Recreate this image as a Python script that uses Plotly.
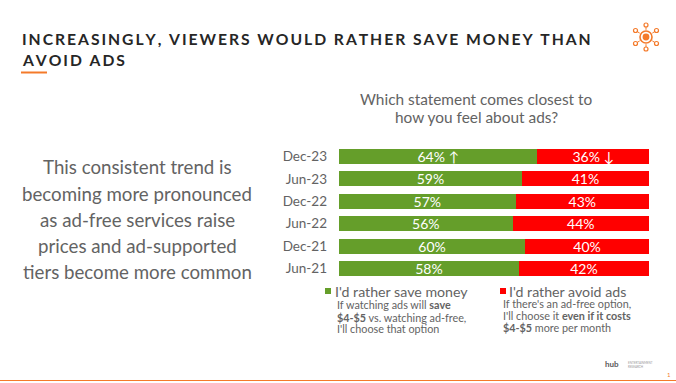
import plotly.graph_objects as go

periods = ["Dec-23", "Jun-23", "Dec-22", "Jun-22", "Dec-21", "Jun-21"]
save_money = [64, 59, 57, 56, 60, 58]
avoid_ads = [36, 41, 43, 44, 40, 42]
save_marks = [" ↑", "", "", "", "", ""]
avoid_marks = [" ↓", "", "", "", "", ""]
series_names = ["I'd rather save money", "I'd rather avoid ads"]
title_lines = ["INCREASINGLY, VIEWERS WOULD RATHER SAVE MONEY THAN", "AVOID ADS"]

W, H = 676, 383
FONT = "Lato"
GREY = "#636363"
ORANGE = "#F47A2A"
GREEN = "#659E2A"
RED = "#FF0000"


def px(x):
    return x / W


def py(y):
    return 1 - y / H


def spaced(s):
    return "<b>" + "\u2009".join(s).replace("\u2009 \u2009", "\u2009\u00a0\u2009") + "</b>"


fig = go.Figure()
fig.add_trace(go.Bar(
    y=periods, x=save_money, orientation="h", name=series_names[0],
    marker=dict(color=GREEN, line=dict(width=0)),
    text=[f"{v}%{m}" for v, m in zip(save_money, save_marks)],
    textposition="inside", insidetextanchor="middle", constraintext="none",
    textfont=dict(color="white", size=14, family=FONT),
))
fig.add_trace(go.Bar(
    y=periods, x=avoid_ads, orientation="h", name=series_names[1],
    marker=dict(color=RED, line=dict(width=0)),
    text=[f"{v}%{m}" for v, m in zip(avoid_ads, avoid_marks)],
    textposition="inside", insidetextanchor="middle", constraintext="none",
    textfont=dict(color="white", size=14, family=FONT),
))

shapes = [
    dict(type="rect", xref="paper", yref="paper", x0=px(21), x1=px(47), y0=py(73.5), y1=py(71.5),
         fillcolor=ORANGE, line_width=0),
    dict(type="line", xref="paper", yref="paper", x0=0, x1=1, y0=py(380.5), y1=py(380.5),
         line=dict(color=ORANGE, width=1)),
    dict(type="rect", xref="paper", yref="paper", x0=px(325), x1=px(331), y0=py(294), y1=py(288),
         fillcolor=GREEN, line_width=0),
    dict(type="rect", xref="paper", yref="paper", x0=px(500), x1=px(506), y0=py(294), y1=py(288),
         fillcolor=RED, line_width=0),
]


def circle(cx, cy, r, fill=None, width=1.2):
    return dict(type="circle", xref="paper", yref="paper",
                x0=px(cx - r), x1=px(cx + r), y0=py(cy + r), y1=py(cy - r),
                fillcolor=fill if fill else "rgba(0,0,0,0)",
                line=dict(color=ORANGE, width=width if not fill else 0))


ICON_X, ICON_Y = 646, 37
shapes += [circle(ICON_X, ICON_Y, 6, width=1.6), circle(ICON_X, ICON_Y, 3.4, fill=ORANGE)]
for dx, dy in [(0, -12), (0, 12), (-10.5, -6.5), (10.5, -6.5), (-10.5, 6.5), (10.5, 6.5)]:
    shapes.append(circle(ICON_X + dx, ICON_Y + dy, 2))
    shapes.append(dict(type="line", xref="paper", yref="paper",
                       x0=px(ICON_X + dx * 0.6), x1=px(ICON_X + dx * 0.85),
                       y0=py(ICON_Y + dy * 0.6), y1=py(ICON_Y + dy * 0.85),
                       line=dict(color=ORANGE, width=1)))


def note(x, y, text, size, color=GREY, anchor="left"):
    return dict(xref="paper", yref="paper", x=px(x), y=py(y), text=text, showarrow=False,
                xanchor=anchor, yanchor="top", align=anchor,
                font=dict(family=FONT, size=size, color=color), borderpad=0)


annotations = [
    note(21, 29, spaced(title_lines[0]), 15.7, "#262626"),
    note(21, 50, spaced(title_lines[1]), 15.7, "#262626"),
    note(476, 89, "Which statement comes closest to", 15.4, anchor="center"),
    note(476, 107, "how you feel about ads?", 15.4, anchor="center"),
    note(137, 155, "This consistent trend is", 18.7, anchor="center"),
    note(137, 181.5, "becoming more pronounced", 18.7, anchor="center"),
    note(137, 207.5, "as ad-free services raise", 18.7, anchor="center"),
    note(137, 233.5, "prices and ad-supported", 18.7, anchor="center"),
    note(137, 259.5, "tiers become more common", 18.7, anchor="center"),
    note(334, 282, series_names[0], 14.2),
    note(508, 282, series_names[1], 14.2),
    note(336, 297, "If watching ads will <b>save</b>", 10.8),
    note(336, 309.5, "<b>$4-$5</b> vs. watching ad-free,", 10.8),
    note(336, 320.5, "I'll choose that option", 10.8),
    note(502, 296, "If there's an ad-free option,", 10.8),
    note(502, 308, "I'll choose it <b>even if it costs</b>", 10.8),
    note(502, 320, "<b>$4-$5</b> more per month", 10.8),
    note(604, 358, "<b>hub</b>", 8, "#595959"),
    note(627, 360, "ENTERTAINMENT<br>RESEARCH", 3, "#999999"),
    note(666, 370, "1", 6, ORANGE),
]

fig.update_layout(
    width=W, height=H, autosize=False, margin=dict(l=0, r=0, t=0, b=0),
    paper_bgcolor="white", plot_bgcolor="white",
    barmode="stack", bargap=0.33, showlegend=False,
    font=dict(family=FONT, color=GREY),
    shapes=shapes, annotations=annotations,
    xaxis=dict(domain=[px(339), px(649)], range=[0, 100], visible=False, fixedrange=True),
    yaxis=dict(domain=[py(279.7), py(145.3)], autorange="reversed", showline=False, showgrid=False,
               ticks="", ticklabelstandoff=11,
               tickfont=dict(family=FONT, size=13.5, color=GREY), fixedrange=True),
)

fig.write_html("out.html", config={"displayModeBar": False},
               post_script="document.body.style.margin='0';document.body.style.overflow='hidden';")
